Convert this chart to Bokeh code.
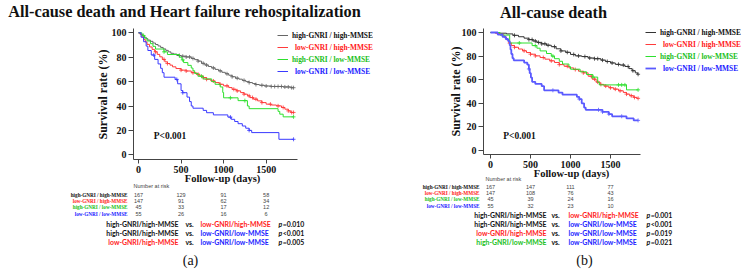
import numpy as np
from bokeh.plotting import figure
from bokeh.models import Range1d, Label, Legend, LegendItem, FixedTicker
from bokeh.layouts import row
from bokeh.embed import file_html
from bokeh.resources import INLINE

# ---------------- data ----------------
group_names = ["high-GNRI / high-MMSE", "low-GNRI / high-MMSE",
               "high-GNRI / low-MMSE", "low-GNRI / low-MMSE"]
short_names = ["high-GNRI/high-MMSE", "low-GNRI/high-MMSE",
               "high-GNRI/low-MMSE", "low-GNRI/low-MMSE"]

x_ticks = [0, 500, 1000, 1500]
y_ticks = [0, 20, 40, 60, 80, 100]
risk_times = [0, 500, 1000, 1500]

# Panel (a): all-cause death and heart failure rehospitalization
a_end = 1822
a_hh_t = [0, 15, 30, 50, 70, 90, 110, 140, 170, 200, 230, 260, 290, 320, 350, 380, 410, 450, 500,
          560, 620, 660, 700, 740, 780, 820, 860, 900, 940, 980, 1020, 1060, 1100, 1140, 1180, 1220,
          1260, 1300, 1340, 1380, 1420, 1480, 1560, 1700, 1790]
a_hh_s = [100, 99.4, 98.8, 97.6, 96.4, 95.2, 94, 93, 91.6, 90.4, 89.2, 88, 86.8, 85.6, 84.4, 83.2,
          82.6, 81.4, 80.8, 80.2, 79, 78, 76.8, 75, 73.6, 72.4, 71.2, 70, 68.8, 67.6, 66.4, 65.2, 64,
          62.8, 62, 61, 60, 59.2, 58.4, 57.6, 57, 56.4, 56, 55.6, 55]
a_lh_t = [0, 20, 40, 60, 80, 100, 130, 160, 190, 220, 250, 280, 310, 340, 370, 400, 440, 500, 560,
          620, 680, 720, 760, 800, 850, 900, 950, 1000, 1060, 1100, 1150, 1200, 1240, 1280, 1310,
          1350, 1400, 1450, 1500, 1560, 1620, 1680, 1720, 1760, 1790]
a_lh_s = [100, 98.6, 96.6, 94.6, 92.5, 90.5, 88.4, 86.4, 84.4, 82.3, 80.3, 78.2, 76.2, 74.8, 73.5,
          72.1, 70.7, 69.4, 68.7, 67.3, 66, 64.6, 63.3, 61.9, 60.5, 59.2, 57.8, 56.5, 55.1, 53.7,
          52.4, 51, 49.7, 48.3, 46.9, 45.6, 44.2, 42.8, 41.5, 40.8, 40.1, 38.8, 37.4, 36, 34.7]
a_hl_t = [0, 40, 70, 100, 140, 170, 200, 300, 340, 480, 510, 530, 580, 620, 640, 660, 700, 760,
          860, 900, 960, 990, 1000, 1170, 1280, 1300, 1640, 1660, 1700]
a_hl_s = [100, 97.8, 95.6, 93.3, 91.1, 88.9, 86.7, 84.4, 82.2, 80, 77.8, 75.6, 73.3, 71.1, 68.9,
          66.7, 64.4, 62.2, 60, 57.8, 55.6, 51.1, 46.7, 44.4, 40, 37.8, 35.6, 33.3, 31.1]
a_ll_t = [0, 30, 60, 90, 110, 150, 190, 230, 260, 280, 300, 430, 460, 500, 520, 570, 600, 620, 640,
          760, 800, 880, 1050, 1090, 1130, 1170, 1220, 1260, 1300, 1330, 1650]
a_ll_s = [100, 96.4, 92.7, 89.1, 85.5, 81.8, 78.2, 74.5, 70.9, 67.3, 63.6, 61.8, 58.2, 52.7, 50.9,
          47.3, 43.6, 40, 38.2, 36.4, 34.5, 32.7, 30.9, 29.1, 27.3, 25.5, 23.6, 21.8, 20, 18.2, 12.7]
a_hh_c = [480, 520, 560, 600, 640, 700, 760, 800, 880, 960, 1040, 1100, 1160, 1240, 1300, 1380,
          1450, 1500, 1560, 1600, 1640, 1680, 1720, 1760, 1800, 1822]
a_lh_c = [200, 300, 340, 500, 560, 640, 700, 760, 800, 880, 960, 1040, 1120, 1160, 1240, 1300,
          1340, 1380, 1450, 1550, 1640, 1700, 1760, 1800, 1822]
a_hl_c = [60, 300, 520, 740, 1080, 1250, 1822]
a_ll_c = [180, 450, 520, 1080, 1300, 1822]
a_risk = [[167, 129, 91, 58], [147, 91, 62, 34], [45, 33, 17, 12], [55, 26, 16, 6]]
a_pairs = [(0, 1, "=0.010"), (0, 3, "<0.001"), (1, 3, "=0.005")]

# Panel (b): all-cause death
b_end = 1845
b_hh_t = [0, 100, 200, 280, 350, 420, 480, 530, 580, 640, 700, 760, 820, 880, 940, 1000, 1060,
          1140, 1220, 1300, 1380, 1440, 1500, 1560, 1620, 1680, 1730, 1770, 1810, 1840]
b_hh_s = [100, 99.4, 98.8, 97.6, 96.4, 95.2, 94, 92.8, 91.6, 90.4, 89.2, 88, 86.2, 84.4, 83.2,
          81.4, 80.2, 79.6, 78.4, 77.8, 76.6, 75.4, 74.2, 73, 72.4, 71.2, 69.4, 67.6, 65.8, 64.6]
b_lh_t = [0, 60, 120, 170, 200, 230, 260, 300, 350, 400, 450, 500, 560, 620, 680, 740, 800, 860,
          920, 980, 1040, 1100, 1160, 1220, 1270, 1320, 1370, 1420, 1480, 1540, 1600, 1660, 1700,
          1740, 1790, 1830]
b_lh_s = [100, 99.3, 98, 96, 93.8, 91, 89, 87.5, 86, 84.5, 83, 81.6, 80.2, 78.8, 77.4, 76, 74.6,
          72.8, 71.4, 70, 68.6, 67.2, 65.8, 63, 60.5, 58, 56, 54.6, 53.2, 52, 50.6, 49.2, 47.8,
          46.4, 45, 44.2]
b_hl_t = [0, 120, 240, 520, 580, 620, 700, 760, 800, 860, 900, 980, 1000, 1120, 1200, 1280, 1340,
          1360, 1700]
b_hl_s = [100, 97.8, 91.1, 88.9, 86.7, 84.4, 82.2, 80, 77.8, 75.6, 73.3, 71.1, 68.9, 66.7, 64.4,
          62.2, 57.8, 55.6, 51.4]
b_ll_t = [0, 90, 150, 190, 220, 240, 250, 260, 275, 290, 420, 460, 480, 490, 505, 520, 560, 640,
          670, 850, 900, 1080, 1110, 1140, 1170, 1190, 1400, 1480, 1520, 1700, 1790]
b_ll_s = [100, 98.2, 96.4, 94.5, 92.7, 89.1, 85.5, 81.8, 78.2, 76.4, 74.5, 72.7, 69.1, 65.5, 61.8,
          58.2, 56.4, 54.5, 51, 49.1, 47.3, 45.4, 43.6, 40, 36.4, 34.5, 32.7, 30.9, 29, 27.2, 25.5]
b_hh_c = [300, 480, 520, 560, 600, 640, 680, 720, 800, 880, 960, 1040, 1100, 1180, 1240, 1300,
          1340, 1400, 1460, 1520, 1600, 1660, 1720, 1780, 1845]
b_lh_c = [240, 300, 420, 500, 560, 660, 760, 860, 960, 1060, 1160, 1260, 1300, 1340, 1380, 1440,
          1500, 1560, 1620, 1700, 1760, 1800, 1845]
b_hl_c = [360, 560, 780, 1280, 1600, 1640, 1680, 1845]
b_ll_c = [480, 780, 1110, 1350, 1400, 1480, 1640, 1845]
b_risk = [[167, 147, 111, 77], [147, 108, 76, 43], [45, 39, 24, 16], [55, 32, 23, 10]]
b_pairs = [(0, 1, "=0.001"), (0, 3, "<0.001"), (1, 3, "=0.019"), (2, 3, "=0.021")]

SERIF = "Liberation Serif"
SANS = "Liberation Sans"
CALI = "Lato"
text_colors = ["#111111", "#ff2020", "#20c020", "#2020ff"]

W, H = 373, 271  # size of one panel
CMP_SIZE = 6.9


def surv_at(times, surv, t):
    i = np.searchsorted(np.asarray(times), t, side="right") - 1
    return surv[max(i, 0)]


def lab(p, x, y, text, size, color="#111111", font=SERIF, style="bold", align="left",
        angle=0.0, xu="screen"):
    # x, y in panel pixels measured from the top-left corner (x may be in data units)
    p.add_layout(Label(x=x, y=H - y, x_units=xu, y_units="screen", text=text, angle=angle,
                       text_font=font, text_font_style=style, text_font_size=f"{size}px",
                       text_color=color, text_align=align, text_baseline="middle"))


def panel(cfg):
    # the frame covers the whole panel; axes are pinned where the plot box sits
    x0, kx, y0, ky = cfg["map"]
    xr = Range1d(-x0 / kx, (W - x0) / kx)
    yr = Range1d((y0 - H) / ky, y0 / ky)
    p = figure(width=W, height=H, output_backend="svg", toolbar_location=None,
               x_range=xr, y_range=yr, min_border=0)
    p.outline_line_color = None
    p.grid.visible = False
    p.background_fill_color = "white"
    p.border_fill_color = "white"

    left, right, top, bottom = cfg["box"]
    t_left, t_right = (left - x0) / kx, (right - x0) / kx
    s_top, s_bottom = (y0 - top) / ky, (y0 - bottom) / ky
    p.xaxis.fixed_location = s_bottom
    p.xaxis.bounds = (t_left, t_right)
    p.yaxis.fixed_location = t_left
    p.yaxis.bounds = (s_bottom, s_top)

    for ax in (p.xaxis, p.yaxis):
        ax.major_label_text_font = SERIF
        ax.major_label_text_font_style = "bold"
        ax.major_label_text_font_size = "10px"
        ax.major_label_text_color = "#111111"
        ax.axis_line_color = "#444444"
        ax.major_tick_line_color = "#444444"
        ax.major_tick_in = 0
        ax.minor_tick_line_color = None
        ax.major_label_standoff = 2
    p.xaxis.major_tick_out = 4
    p.yaxis.major_tick_out = 5
    p.xaxis.ticker = FixedTicker(ticks=x_ticks)
    p.yaxis.ticker = FixedTicker(ticks=y_ticks)

    renderers = []
    for (t, s, c), col, w in zip(cfg["series"], cfg["colors"], cfg["widths"]):
        xs = list(t) + [cfg["end"]]
        ys = list(s) + [s[-1]]
        r = p.step(xs, ys, mode="after", line_color=col, line_width=w)
        renderers.append(r)
        cy = [surv_at(t, s, ct) for ct in c]
        p.scatter(c, cy, marker="cross", size=4, line_color=col, line_width=0.8)

    # legend, one entry per group so each label keeps its own colour
    for i, (name, r) in enumerate(zip(group_names, renderers)):
        lg = Legend(items=[LegendItem(label=name, renderers=[r])],
                    location=(cfg["leg_x"], H - (cfg["leg_y"][i] + 6)),
                    padding=0, margin=0, spacing=0, glyph_width=11, glyph_height=12,
                    label_height=12, label_standoff=4 + cfg["leg_dx2"][i],
                    border_line_color=None, background_fill_alpha=0,
                    label_text_font=SERIF, label_text_font_style="bold",
                    label_text_font_size="7.4px", label_text_color=text_colors[i])
        p.add_layout(lg)

    # titles and axis names
    lab(p, *cfg["title_xy"], cfg["title"], 16.3, align="center")
    lab(p, *cfg["ylab_xy"], "Survival rate (%)", 12, align="center", angle=np.pi / 2)
    lab(p, *cfg["xlab_xy"], "Follow-up (days)", 10.5, align="center")
    p.add_layout(Label(x=cfg["pval"][0], y=cfg["pval"][1], text="P<0.001", text_font=SERIF,
                       text_font_style="bold", text_font_size="9.5px", text_color="#111111",
                       text_align="center", text_baseline="middle"))

    # number at risk table
    lab(p, *cfg["nar_xy"], "Number at risk", 5.5, color="#444444", font=SANS, style="normal")
    for i, (name, counts) in enumerate(zip(group_names, cfg["risk"])):
        yy = cfg["risk_y"][i]
        lab(p, cfg["risk_lab_x"], yy, name, 5.2, color=text_colors[i], align="right")
        for tt, n in zip(risk_times, counts):
            lab(p, tt, yy, str(n), 5.5, color="#444444", font=SANS, style="normal",
                align="center", xu="data")

    # pairwise log-rank comparisons
    for k, (g1, g2, pv) in enumerate(cfg["pairs"]):
        yy = cfg["cmp_y"][k]
        lab(p, cfg["cmp_x"][0], yy, short_names[g1], CMP_SIZE, color=text_colors[g1],
            font=CALI, align="right")
        lab(p, cfg["cmp_x"][1], yy, "vs.", CMP_SIZE, font=CALI)
        lab(p, cfg["cmp_x"][2], yy, short_names[g2], CMP_SIZE, color=text_colors[g2], font=CALI)
        lab(p, cfg["cmp_x"][3], yy, "p", CMP_SIZE, font=CALI, style="bold italic")
        lab(p, cfg["cmp_x"][3] + 4.2, yy, pv, CMP_SIZE, font=CALI)

    lab(p, *cfg["tag_xy"], cfg["tag"], 14, font=SERIF, style="normal", align="center")
    return p


cfg_a = dict(
    map=(138, 0.0851, 154.3, 1.22), box=(133, 297, 28, 159),
    series=[(a_hh_t, a_hh_s, a_hh_c), (a_lh_t, a_lh_s, a_lh_c),
            (a_hl_t, a_hl_s, a_hl_c), (a_ll_t, a_ll_s, a_ll_c)],
    colors=["#666666", "#ff3b3b", "#2ee02e", "#3a3aff"], widths=[1, 1, 1, 1],
    end=a_end,
    leg_x=277, leg_dx2=[0, 3, 0, 3], leg_y=[35, 47, 59, 71],
    title="All-cause death and Heart failure rehospitalization", title_xy=(184, 11),
    ylab_xy=(102, 94), xlab_xy=(222, 178), pval=(370, 15.8),
    nar_xy=(133, 185), risk=a_risk, risk_y=[194, 200, 206.5, 213], risk_lab_x=127,
    pairs=a_pairs, cmp_y=[223, 232, 241], cmp_x=[178, 185, 200, 278],
    tag_xy=(190, 260), tag="(a)",
)

cfg_b = dict(
    map=(117, 0.08, 150, 1.18), box=(110, 267, 28, 154),
    series=[(b_hh_t, b_hh_s, b_hh_c), (b_lh_t, b_lh_s, b_lh_c),
            (b_hl_t, b_hl_s, b_hl_c), (b_ll_t, b_ll_s, b_ll_c)],
    colors=["#333333", "#ff3b3b", "#2ee02e", "#5a5aff"], widths=[1, 1, 1, 1.8],
    end=b_end,
    leg_x=272, leg_dx2=[0, 3, 0, 3], leg_y=[32, 44, 56, 68],
    title="All-cause death", title_xy=(180, 12),
    ylab_xy=(82, 91), xlab_xy=(198, 173), pval=(362, 12.7),
    nar_xy=(112, 178), risk=b_risk, risk_y=[186, 192, 198.5, 205], risk_lab_x=106,
    pairs=b_pairs, cmp_y=[214, 223, 232, 241], cmp_x=[173, 178, 195, 273],
    tag_xy=(211, 260), tag="(b)",
)

pa = panel(cfg_a)
pb = panel(cfg_b)
layout = row(pa, pb)

with open("out.html", "w") as f:
    f.write(file_html(layout, INLINE))
